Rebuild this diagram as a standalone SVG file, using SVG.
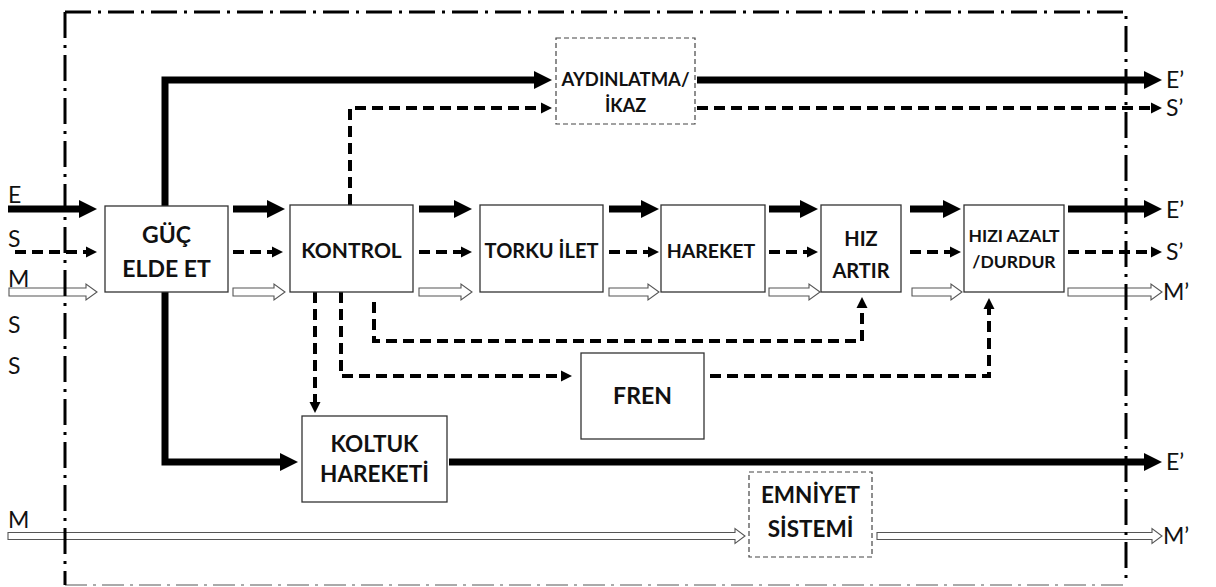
<svg xmlns="http://www.w3.org/2000/svg" width="1216" height="587" viewBox="0 0 1216 587">
<style>
.box{fill:#fff;stroke:#333;stroke-width:1.3}
.dbox{fill:#fff;stroke:#444;stroke-width:1.2;stroke-dasharray:5 3}
.t{font-family:Lato,"Liberation Sans",sans-serif;font-weight:bold;fill:#111;text-anchor:middle}
.lbl{font-family:Lato,"Liberation Sans",sans-serif;font-size:23px;fill:#111}
.thick{fill:none;stroke:#000;stroke-width:7;stroke-linejoin:miter;marker-end:url(#ahT)}
.dash{fill:none;stroke:#000;stroke-width:4;stroke-dasharray:11 6;marker-end:url(#ahD)}
.hol{fill:#fff;stroke:#555;stroke-width:1.1}
.border{fill:none;stroke:#000;stroke-width:3;stroke-dasharray:26 7 3 7}
.borderb{fill:none;stroke:#aaa;stroke-width:2;stroke-dasharray:22 6 3 6}
</style>
<defs>
<marker id="ahT" markerUnits="userSpaceOnUse" markerWidth="18" markerHeight="18" refX="0" refY="9" orient="auto" overflow="visible"><path d="M0,0 L18,9 L0,18 Z" fill="#000"/></marker>
<marker id="ahD" markerUnits="userSpaceOnUse" markerWidth="11" markerHeight="11" refX="0" refY="5.5" orient="auto" overflow="visible"><path d="M0,0 L11,5.5 L0,11 Z" fill="#000"/></marker>
</defs>
<rect width="1216" height="587" fill="#fff"/>

<g id="connectors">
<path class="thick" d="M165,206 V80 H534"/>
<path class="thick" d="M697,80 H1144"/>
<path class="dash" d="M350,205 V108 H541"/>
<path class="dash" d="M697,108 H1151"/>
<path class="thick" d="M8,209 H79"/>
<path class="thick" d="M233,209 H267"/>
<path class="thick" d="M419,209 H454"/>
<path class="thick" d="M609,209 H641"/>
<path class="thick" d="M769,209 H800"/>
<path class="thick" d="M910,209 H943"/>
<path class="thick" d="M1068,209 H1144"/>
<path class="dash" d="M15,252 H86"/>
<path class="dash" d="M233,252 H272"/>
<path class="dash" d="M419,252 H461"/>
<path class="dash" d="M609,252 H648"/>
<path class="dash" d="M769,252 H807"/>
<path class="dash" d="M910,252 H950"/>
<path class="dash" d="M1068,252 H1151"/>
<path class="hol" d="M9,288 H86 V284 L97,292 L86,300 V296 H9 Z"/>
<path class="hol" d="M233,288 H274 V284 L285,292 L274,300 V296 H233 Z"/>
<path class="hol" d="M419,288 H461 V284 L472,292 L461,300 V296 H419 Z"/>
<path class="hol" d="M609,288 H648 V284 L659,292 L648,300 V296 H609 Z"/>
<path class="hol" d="M769,288 H809 V284 L820,292 L809,300 V296 H769 Z"/>
<path class="hol" d="M912,288 H951 V284 L962,292 L951,300 V296 H912 Z"/>
<path class="hol" d="M1068,288 H1151 V284 L1162,292 L1151,300 V296 H1068 Z"/>
<path class="dash" d="M315,292 V402"/>
<path class="dash" d="M341,292 V376 H561"/>
<path class="dash" d="M374,302 V341 H862 V308"/>
<path class="dash" d="M710,376 H989 V309"/>
<path class="thick" d="M165,292 V462 H280"/>
<path class="thick" d="M449,462 H1144"/>
<path class="hol" d="M8,532.5 H735 V528.5 L745,536 L735,543.5 V539.5 H8 Z"/>
<path class="hol" d="M877,532.5 H1152 V528.5 L1162,536 L1152,543.5 V539.5 H877 Z"/>
</g>

<g id="node-guc"><rect class="box" x="105" y="206" width="123" height="86"/><text class="t" font-size="23" x="166.5" y="243">GÜÇ</text><text class="t" font-size="23" x="166.5" y="277">ELDE ET</text></g>
<g id="node-kontrol"><rect class="box" x="290" y="205" width="123" height="87"/><text class="t" font-size="21" x="351.5" y="258">KONTROL</text></g>
<g id="node-torku"><rect class="box" x="480" y="205" width="123" height="87"/><text class="t" font-size="20" x="541.5" y="258">TORKU İLET</text></g>
<g id="node-hareket"><rect class="box" x="661" y="205" width="104" height="87"/><text class="t" font-size="19.5" x="711" y="258">HAREKET</text></g>
<g id="node-hizartir"><rect class="box" x="821" y="205" width="80" height="87"/><text class="t" font-size="20" x="861" y="246">HIZ</text><text class="t" font-size="20" x="861" y="278">ARTIR</text></g>
<g id="node-hizazalt"><rect class="box" x="964" y="205" width="100" height="87"/><text class="t" font-size="17.5" x="1014" y="242">HIZI AZALT</text><text class="t" font-size="17.5" x="1014" y="268">/DURDUR</text></g>
<g id="node-aydinlatma"><rect class="dbox" x="556" y="38" width="139" height="86"/><text class="t" font-size="18" x="625.5" y="86" textLength="128" lengthAdjust="spacingAndGlyphs">AYDINLATMA/</text><text class="t" font-size="18" x="625.5" y="112">İKAZ</text></g>
<g id="node-fren"><rect class="box" x="581" y="353" width="123" height="86"/><text class="t" font-size="23" x="642.5" y="404">FREN</text></g>
<g id="node-koltuk"><rect class="box" x="302" y="416" width="145" height="86"/><text class="t" font-size="22.5" x="374.5" y="452">KOLTUK</text><text class="t" font-size="22.5" x="374.5" y="482">HAREKETİ</text></g>
<g id="node-emniyet"><rect class="dbox" x="749" y="472" width="123" height="85"/><text class="t" font-size="22.5" x="810.5" y="503">EMNİYET</text><text class="t" font-size="22.5" x="810.5" y="537">SİSTEMİ</text></g>

<g id="labels">
<text class="lbl" x="8" y="203">E</text>
<text class="lbl" x="8" y="247">S</text>
<text class="lbl" x="8" y="287">M</text>
<text class="lbl" x="8" y="333">S</text>
<text class="lbl" x="8" y="374">S</text>
<text class="lbl" x="8" y="528">M</text>
<text class="lbl" x="1166" y="88">E’</text>
<text class="lbl" x="1166" y="116">S’</text>
<text class="lbl" x="1166" y="218">E’</text>
<text class="lbl" x="1166" y="260">S’</text>
<text class="lbl" x="1163" y="300">M’</text>
<text class="lbl" x="1166" y="470">E’</text>
<text class="lbl" x="1163" y="544">M’</text>
</g>

<g id="system-boundary">
<path class="borderb" d="M65,585 H1126"/>
<path class="border" d="M65,12 V585"/>
<path class="border" d="M65,12 H1126 V585"/>
</g>
</svg>
